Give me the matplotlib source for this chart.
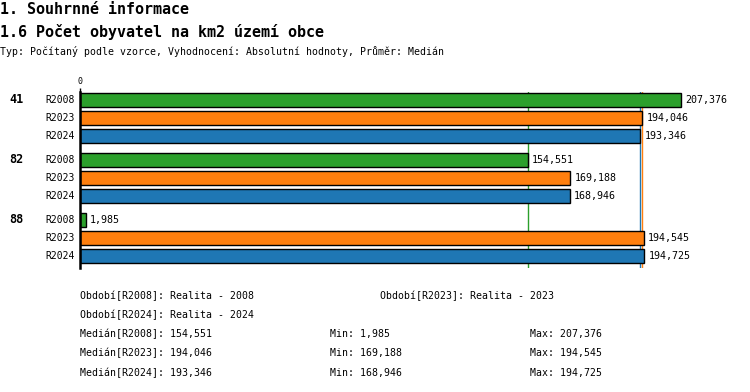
import matplotlib
matplotlib.use("Agg")
import matplotlib.pyplot as plt
from matplotlib.transforms import blended_transform_factory

plt.rcParams['font.family'] = ['DejaVu Sans Mono', 'DejaVu Sans']

groups = ["41", "82", "88"]
series = ["R2008", "R2023", "R2024"]
colors = ["#2ca02c", "#ff7f0e", "#1f77b4"]
values = {
    "R2008": [207.376, 154.551, 1.985],
    "R2023": [194.046, 169.188, 194.545],
    "R2024": [193.346, 168.946, 194.725],
}
medians = {"R2008": 154.551, "R2023": 194.046, "R2024": 193.346}
mins = {"R2008": 1.985, "R2023": 169.188, "R2024": 168.946}
maxs = {"R2008": 207.376, "R2023": 194.545, "R2024": 194.725}
periods = {"R2008": "Realita - 2008", "R2023": "Realita - 2023", "R2024": "Realita - 2024"}

title1 = "1. Souhrnné informace"
title2 = "1.6 Počet obyvatel na km2 území obce"
subtitle = "Typ: Počítaný podle vzorce, Vyhodnocení: Absolutní hodnoty, Průměr: Medián"

W, H = 750, 392
fig = plt.figure(figsize=(W / 100, H / 100), dpi=100)

ax_left, ax_right = 80, 720
ax_top, ax_bot = 92, 268
ax = fig.add_axes([ax_left / W, 1 - ax_bot / H, (ax_right - ax_left) / W, (ax_bot - ax_top) / H])

px_per_unit = 601 / 207.376
ax.set_xlim(0, (ax_right - ax_left) / px_per_unit)
group_step = 60 / 18
ax.set_ylim(2 * group_step + 2 + 0.667, -0.444)


def fmt(v):
    return f"{v:.3f}".replace(".", ",")


for s, col in zip(series, colors):
    ax.axvline(medians[s], color=col, lw=1, zorder=1)

ytr = blended_transform_factory(fig.transFigure, ax.transData)
for gi, g in enumerate(groups):
    ax.text(9 / W, gi * group_step, g, transform=ytr, fontsize=8.5, fontweight='bold',
            ha='left', va='center')
    for ri, (s, col) in enumerate(zip(series, colors)):
        y = gi * group_step + ri
        v = values[s][gi]
        ax.barh(y, v, height=0.83, color=col, edgecolor='black', linewidth=1, zorder=2)
        ax.annotate(fmt(v), (v, y), xytext=(3, 0), textcoords='offset points',
                    fontsize=7.2, ha='left', va='center', zorder=3)
        ax.text(75 / W, y, s, transform=ytr, fontsize=7, ha='right', va='center')

for sp in ['top', 'right', 'bottom']:
    ax.spines[sp].set_visible(False)
ax.spines['left'].set_linewidth(1.8)
ax.set_yticks([])
ax.xaxis.tick_top()
ax.set_xticks([0])
ax.set_xticklabels(["0"])
ax.tick_params(axis='x', length=3, width=1, labelsize=6, pad=1)

fig.text(0, 1 - 14 / H, title1, fontsize=10.8, fontweight='bold', ha='left', va='baseline')
fig.text(0, 1 - 37 / H, title2, fontsize=10.8, fontweight='bold', ha='left', va='baseline')
fig.text(0, 1 - 55 / H, subtitle, fontsize=7.15, ha='left', va='baseline')

fs = 7.15
fig.text(80 / W, 1 - 296 / H, f"Období[R2008]: {periods['R2008']}", fontsize=fs, va='center')
fig.text(380 / W, 1 - 296 / H, f"Období[R2023]: {periods['R2023']}", fontsize=fs, va='center')
fig.text(80 / W, 1 - 315 / H, f"Období[R2024]: {periods['R2024']}", fontsize=fs, va='center')
for i, s in enumerate(series):
    y = 1 - (334 + 19.3 * i) / H
    fig.text(80 / W, y, f"Medián[{s}]: {fmt(medians[s])}", fontsize=fs, va='center')
    fig.text(330 / W, y, f"Min: {fmt(mins[s])}", fontsize=fs, va='center')
    fig.text(530 / W, y, f"Max: {fmt(maxs[s])}", fontsize=fs, va='center')

fig.savefig("out.png", dpi=100)
